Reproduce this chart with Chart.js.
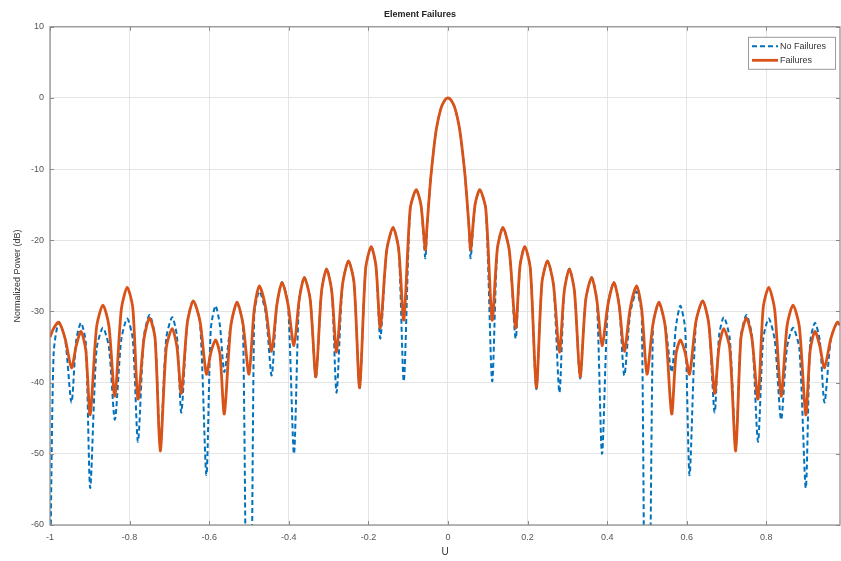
<!DOCTYPE html>
<html>
<head>
	<meta charset="UTF-8">
	<title>Element Failures</title>
	<script src="https://cdn.jsdelivr.net/npm/chart.js@4.4.1/dist/chart.umd.min.js"></script>
	<style>
		body {
			margin:0;
			padding:0;
			overflow: hidden;
			background:#fff;
		}
	</style>
</head>
<body>
	<canvas id="chart" width="841" height="561"></canvas>
	<script>
		// U axis samples (nulls, lobe shoulders, lobe peaks)
		const uValues = [
			-1.000, -0.991, -0.978, -0.962, -0.946, -0.934, -0.922, -0.910, -0.899, -0.883,
			-0.867, -0.852, -0.837, -0.821, -0.806, -0.792, -0.779, -0.764, -0.750, -0.736,
			-0.723, -0.708, -0.693, -0.681, -0.670, -0.655, -0.640, -0.623, -0.607, -0.596,
			-0.584, -0.573, -0.562, -0.546, -0.530, -0.515, -0.500, -0.487, -0.474, -0.458,
			-0.443, -0.430, -0.417, -0.402, -0.387, -0.374, -0.361, -0.346, -0.332, -0.318,
			-0.305, -0.292, -0.280, -0.265, -0.250, -0.236, -0.222, -0.207, -0.193, -0.181,
			-0.170, -0.154, -0.138, -0.124, -0.111, -0.095, -0.080, -0.068, -0.057, -0.053,
			-0.048, -0.043, -0.036, -0.029, -0.019, -0.010,
			0.000,
			0.010, 0.019, 0.029, 0.036, 0.043, 0.048, 0.053, 0.057, 0.068, 0.080,
			0.095, 0.111, 0.124, 0.138, 0.154, 0.170, 0.181, 0.193, 0.207, 0.222,
			0.236, 0.250, 0.265, 0.280, 0.292, 0.305, 0.318, 0.332, 0.346, 0.361,
			0.374, 0.387, 0.402, 0.417, 0.430, 0.443, 0.458, 0.474, 0.487, 0.500,
			0.515, 0.530, 0.546, 0.562, 0.573, 0.584, 0.596, 0.607, 0.623, 0.640,
			0.655, 0.670, 0.681, 0.693, 0.708, 0.723, 0.736, 0.750, 0.764, 0.779,
			0.792, 0.806, 0.821, 0.837, 0.852, 0.867, 0.883, 0.899, 0.910, 0.922,
			0.934, 0.946, 0.962, 0.978, 0.985
		];

		// "No Failures" pattern, dB
		const noFailuresDb = [
			-70, -36.0, -31.5, -33.9, -42.8, -34.0, -31.6, -34.4, -54.8, -35.3,
			-32.3, -35.0, -45.2, -34.0, -31.0, -33.9, -48.3, -33.5, -30.5, -33.5,
			-49.0, -33.8, -30.8, -33.5, -44.2, -31.6, -28.5, -31.6, -53.0, -32.5,
			-29.2, -32.0, -38.5, -32.0, -28.9, -32.0, -120, -30.6, -27.2, -30.2,
			-39.0, -29.1, -25.9, -29.0, -50.0, -28.4, -25.2, -28.4, -39.4, -27.3,
			-24.0, -27.2, -41.4, -26.2, -22.9, -26.0, -40.9, -24.0, -20.9, -23.6,
			-33.8, -21.4, -18.2, -21.2, -39.8, -15.6, -12.9, -15.0, -22.5, -18.6,
			-14.5, -11.0, -7.3, -4.3, -1.7, -0.5,
			0,
			-0.5, -1.7, -4.3, -7.3, -11.0, -14.5, -18.6, -22.5, -15.0, -12.9,
			-15.6, -39.8, -21.2, -18.2, -21.4, -33.8, -23.6, -20.9, -24.0, -40.9,
			-26.0, -22.9, -26.2, -41.4, -27.2, -24.0, -27.3, -39.4, -28.4, -25.2,
			-28.4, -50.0, -29.0, -25.9, -29.1, -39.0, -30.2, -27.2, -30.6, -120,
			-32.0, -28.9, -32.0, -38.5, -32.0, -29.2, -32.5, -53.0, -31.6, -28.5,
			-31.6, -44.2, -33.5, -30.8, -33.8, -49.0, -33.5, -30.5, -33.5, -48.3,
			-33.9, -31.0, -34.0, -45.2, -35.0, -32.3, -35.3, -54.8, -34.4, -31.6,
			-34.0, -42.8, -33.9, -31.5, -31.9
		];

		// "Failures" pattern, dB
		const failuresDb = [
			-33.6, -32.4, -31.5, -33.8, -37.9, -34.8, -32.8, -35.5, -44.5, -32.2,
			-29.1, -32.0, -41.9, -29.8, -26.6, -29.5, -42.3, -33.9, -30.9, -33.8,
			-49.6, -35.2, -32.4, -35.0, -41.5, -31.6, -28.5, -31.4, -38.8, -35.8,
			-34.0, -36.0, -44.4, -32.2, -28.7, -31.8, -38.8, -29.8, -26.4, -29.5,
			-35.6, -29.1, -25.9, -29.0, -34.8, -28.4, -25.2, -28.4, -39.2, -27.3,
			-24.0, -27.2, -35.7, -26.2, -22.9, -26.0, -40.7, -24.0, -20.9, -23.6,
			-32.3, -21.4, -18.2, -21.2, -31.2, -15.6, -12.9, -15.0, -21.3, -18.3,
			-14.5, -11.0, -7.3, -4.3, -1.7, -0.5,
			0,
			-0.5, -1.7, -4.3, -7.3, -11.0, -14.5, -18.3, -21.3, -15.0, -12.9,
			-15.6, -31.2, -21.2, -18.2, -21.4, -32.3, -23.6, -20.9, -24.0, -40.7,
			-26.0, -22.9, -26.2, -35.7, -27.2, -24.0, -27.3, -39.2, -28.4, -25.2,
			-28.4, -34.8, -29.0, -25.9, -29.1, -35.6, -29.5, -26.4, -29.8, -38.8,
			-31.8, -28.7, -32.2, -44.4, -36.0, -34.0, -35.8, -38.8, -31.4, -28.5,
			-31.6, -41.5, -35.0, -32.4, -35.2, -49.6, -33.8, -30.9, -33.9, -42.3,
			-29.5, -26.6, -29.8, -41.9, -32.0, -29.1, -32.2, -44.5, -35.5, -32.8,
			-34.8, -37.9, -33.8, -31.5, -31.9
		];

		const FONT = '"Liberation Sans", Arial, Helvetica, sans-serif';

		// axes box, inward ticks and legend inside the plot, matlab style
		const frameAndLegend = {
			id: 'frameAndLegend',
			afterDatasetsDraw(chart) {
				const ctx = chart.ctx;
				const a = chart.chartArea;
				const xs = chart.scales.x, ys = chart.scales.y;
				ctx.save();
				ctx.strokeStyle = '#8a8a8a';
				ctx.lineWidth = 1.2;
				ctx.strokeRect(a.left, a.top, a.right - a.left, a.bottom - a.top);

				ctx.lineWidth = 1;
				ctx.beginPath();
				xs.ticks.forEach(t => {
					const px = Math.round(xs.getPixelForValue(t.value)) + 0.5;
					ctx.moveTo(px, a.bottom); ctx.lineTo(px, a.bottom - 4);
					ctx.moveTo(px, a.top); ctx.lineTo(px, a.top + 4);
				});
				ys.ticks.forEach(t => {
					const py = Math.round(ys.getPixelForValue(t.value)) + 0.5;
					ctx.moveTo(a.left, py); ctx.lineTo(a.left + 4, py);
					ctx.moveTo(a.right, py); ctx.lineTo(a.right - 4, py);
				});
				ctx.stroke();

				const w = 87, h = 32;
				const lx = a.right - w - 5, ly = a.top + 10;
				ctx.fillStyle = '#fff';
				ctx.fillRect(lx, ly, w, h);
				ctx.strokeStyle = '#9a9a9a';
				ctx.lineWidth = 1;
				ctx.strokeRect(lx + 0.5, ly + 0.5, w, h);
				ctx.font = '9px ' + FONT;
				ctx.textBaseline = 'middle';
				chart.data.datasets.forEach((ds, i) => {
					const y = ly + 9.5 + i * 14;
					ctx.strokeStyle = ds.borderColor;
					ctx.lineWidth = ds.borderWidth;
					ctx.setLineDash(ds.borderDash || []);
					ctx.beginPath();
					ctx.moveTo(lx + 4, y);
					ctx.lineTo(lx + 30, y);
					ctx.stroke();
					ctx.setLineDash([]);
					ctx.fillStyle = '#333';
					ctx.fillText(ds.label, lx + 32, y);
				});
				ctx.restore();
			}
		};

		const ctx = document.getElementById('chart').getContext('2d');
		const myChart = new Chart(ctx, {
			type: 'line',
			data: {
				datasets: [{
					label: 'No Failures',
					data: uValues.map((u, i) => ({x: u, y: noFailuresDb[i]})),
					borderColor: '#0072BD',
					borderWidth: 2,
					borderDash: [5, 3],
					pointRadius: 0,
					tension: 0.25,
					fill: false,
					order: 2
				},
				{
					label: 'Failures',
					data: uValues.map((u, i) => ({x: u, y: failuresDb[i]})),
					borderColor: '#D95319',
					borderWidth: 2.8,
					pointRadius: 0,
					tension: 0.25,
					fill: false,
					order: 1
				}]
			},
			options: {
				responsive: false,
				animation: false,
				layout: { padding: { left: 0, right: 1, top: 0, bottom: 0 } },
				plugins: {
					legend: { display: false },
					tooltip: { enabled: false },
					title: {
						display: true,
						text: 'Element Failures',
						color: '#222',
						font: { family: FONT, size: 9, weight: 'bold' },
						padding: { top: 9, bottom: 7 }
					}
				},
				scales: {
					x: {
						type: 'linear',
						min: -1,
						max: 0.985,
						afterFit(scale) { scale.height = 36; },
						ticks: {
							stepSize: 0.2,
							includeBounds: false,
							maxRotation: 0,
							color: '#555',
							padding: 7,
							font: { family: FONT, size: 9 },
							callback: v => String(Number(v.toFixed(1)))
						},
						grid: { color: '#e4e4e4', drawTicks: false },
						border: { display: false },
						title: {
							display: true,
							text: 'U',
							color: '#333',
							font: { family: FONT, size: 10 },
							padding: { top: 0, bottom: 3 }
						}
					},
					y: {
						min: -60,
						max: 10,
						afterFit(scale) { scale.width = 50; },
						ticks: {
							stepSize: 10,
							color: '#555',
							padding: 6,
							font: { family: FONT, size: 9 }
						},
						grid: { color: '#e4e4e4', drawTicks: false },
						border: { display: false },
						title: {
							display: true,
							text: 'Normalized Power (dB)',
							color: '#333',
							font: { family: FONT, size: 9 },
							padding: { top: 12, bottom: 0 }
						}
					}
				}
			},
			plugins: [frameAndLegend]
		});
	</script>
</body>
</html>
